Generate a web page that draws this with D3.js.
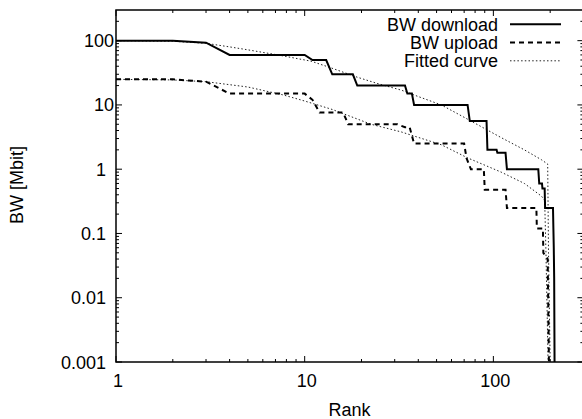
<!DOCTYPE html>
<html><head><meta charset="utf-8">
<script src="https://cdn.jsdelivr.net/npm/d3@7/dist/d3.min.js"></script>
<style>body{margin:0;background:#fff}text{font-family:"Liberation Sans",Arial,sans-serif}</style>
</head><body><svg id="c" width="582" height="419"></svg>
<script>
// Download bandwidth (rank, Mbit)
const dlRank = [1,2,3,4,10,11,13,14,18,19,34,35,37,38,73,75,92,93,104,105,116,118,173,175,181,182,187,188,207,208,209,210,211];
const dlVal  = [100,100,93,60,60,50,50,30,30,20,20,15,15,10,10,5.6,5.6,2,2,1.8,1.8,1,1,0.6,0.6,0.5,0.5,0.25,0.25,0.12,0.06,0.02,0.001];
// Upload bandwidth (rank, Mbit)
const ulRank = [1,2,3,4,10,11,12,16,17,31,34,36,38,70,72,76,89,90,116,118,169,170,183,184,194,197];
const ulVal  = [25,25,23,15,15,12,7.6,7.6,5,5,4.5,4.5,2.5,2.5,1.5,1,1,0.48,0.48,0.25,0.25,0.12,0.12,0.05,0.04,0.001];
// Fitted curves (rank, Mbit)
const fitDlRank = [1,2,3,4,5,7.2,10.8,13.7,19,25,32.5,40,53,73,110,146,180,194,196,200];
const fitDlVal  = [100,98,91,80,72,60,48,38,27,21,17,13.5,10,6,3.1,2.0,1.4,1.2,0.05,0.001];
const fitUlRank = [1,2,3,5,7.7,10,14,22.5,32.5,53,73,110,146,180,187,190,195];
const fitUlVal  = [25,24.5,23,19,14.3,11.5,8.5,5,3.8,2.4,1.5,0.9,0.6,0.38,0.33,0.05,0.001];
const xTicks = [1,10,100];
const yTicks = [0.001,0.01,0.1,1,10,100];
const yTickLabels = ["0.001","0.01","0.1","1","10","100"];
const legendLabels = ["BW download","BW upload","Fitted curve"];

const svg = d3.select("#c");
const L=116, R=583.4, T=10, B=362;
const x = d3.scaleLog().domain([1,300]).range([L,R]);
const y = d3.scaleLog().domain([0.001,300]).range([B,T]).clamp(true);

const xMinor=[], yMinor=[];
for (let d=1; d<=100; d*=10) for (let k=2;k<=9;k++){ const v=k*d; if(v<300) xMinor.push(v); }
for (let e=-3; e<=2; e++) for (let k=2;k<=9;k++){ const v=k*Math.pow(10,e); if(v<300) yMinor.push(v); }

const g = svg.append("g");
const tk = g.append("g").attr("stroke","#000").attr("stroke-width",1);
xTicks.forEach(v=>{ tk.append("line").attr("x1",x(v)).attr("x2",x(v)).attr("y1",B).attr("y2",B-6);
  tk.append("line").attr("x1",x(v)).attr("x2",x(v)).attr("y1",T).attr("y2",T+6);});
xMinor.forEach(v=>{ tk.append("line").attr("x1",x(v)).attr("x2",x(v)).attr("y1",B).attr("y2",B-3);
  tk.append("line").attr("x1",x(v)).attr("x2",x(v)).attr("y1",T).attr("y2",T+3);});
yTicks.forEach(v=>{ tk.append("line").attr("y1",y(v)).attr("y2",y(v)).attr("x1",L).attr("x2",L+6);
  tk.append("line").attr("y1",y(v)).attr("y2",y(v)).attr("x1",R).attr("x2",R-6);});
yMinor.forEach(v=>{ tk.append("line").attr("y1",y(v)).attr("y2",y(v)).attr("x1",L).attr("x2",L+3);
  tk.append("line").attr("y1",y(v)).attr("y2",y(v)).attr("x1",R).attr("x2",R-3);});

// tick labels
xTicks.forEach(v=> g.append("text").attr("x",x(v)+2).attr("y",B+25).attr("text-anchor","middle").attr("font-size",18).text(v));
yTicks.forEach((v,i)=>{ const s=yTickLabels[i];
  g.append("text").attr("x", s.endsWith("1") ? L-10 : L-2).attr("y",y(v)+6.5).attr("text-anchor","end").attr("font-size",18).text(s);});
g.append("text").attr("x",349.5).attr("y",416).attr("text-anchor","middle").attr("font-size",18).text("Rank");
g.append("text").attr("transform",`translate(23,${(T+B)/2-1})rotate(-90)`).attr("text-anchor","middle").attr("font-size",18).text("BW [Mbit]");

const line = d3.line().x(d=>x(d[0])).y(d=>y(d[1]));
svg.append("clipPath").attr("id","cp").append("rect").attr("x",L).attr("y",T).attr("width",R-L).attr("height",B-T);
const pl = svg.append("g").attr("clip-path","url(#cp)");
const DOT="1.5,2.2", DASH="5,4";
pl.append("path").datum(d3.zip(fitDlRank,fitDlVal)).attr("d",line).attr("fill","none").attr("stroke","#222").attr("stroke-width",1).attr("stroke-dasharray",DOT);
pl.append("path").datum(d3.zip(fitUlRank,fitUlVal)).attr("d",line).attr("fill","none").attr("stroke","#222").attr("stroke-width",1).attr("stroke-dasharray",DOT);
pl.append("path").datum(d3.zip(ulRank,ulVal)).attr("d",line).attr("fill","none").attr("stroke","#000").attr("stroke-width",2).attr("stroke-dasharray",DASH);
pl.append("path").datum(d3.zip(dlRank,dlVal)).attr("d",line).attr("fill","none").attr("stroke","#000").attr("stroke-width",2);

// legend
const styles=[{w:2,da:null,c:"#000"},{w:2,da:DASH,c:"#000"},{w:1,da:DOT,c:"#222"}];
legendLabels.forEach((t,i)=>{
  const base = 30.7 + i*18.3;
  g.append("text").attr("x",498).attr("y",base).attr("text-anchor","end").attr("font-size",18).text(t);
  g.append("line").attr("x1",510).attr("x2",561).attr("y1",base-6.5).attr("y2",base-6.5).attr("stroke",styles[i].c).attr("stroke-width",styles[i].w).attr("stroke-dasharray",styles[i].da);
});

svg.append("rect").attr("x",L).attr("y",T).attr("width",R-L).attr("height",B-T).attr("fill","none").attr("stroke","#000").attr("stroke-width",1.5);
</script></body></html>
